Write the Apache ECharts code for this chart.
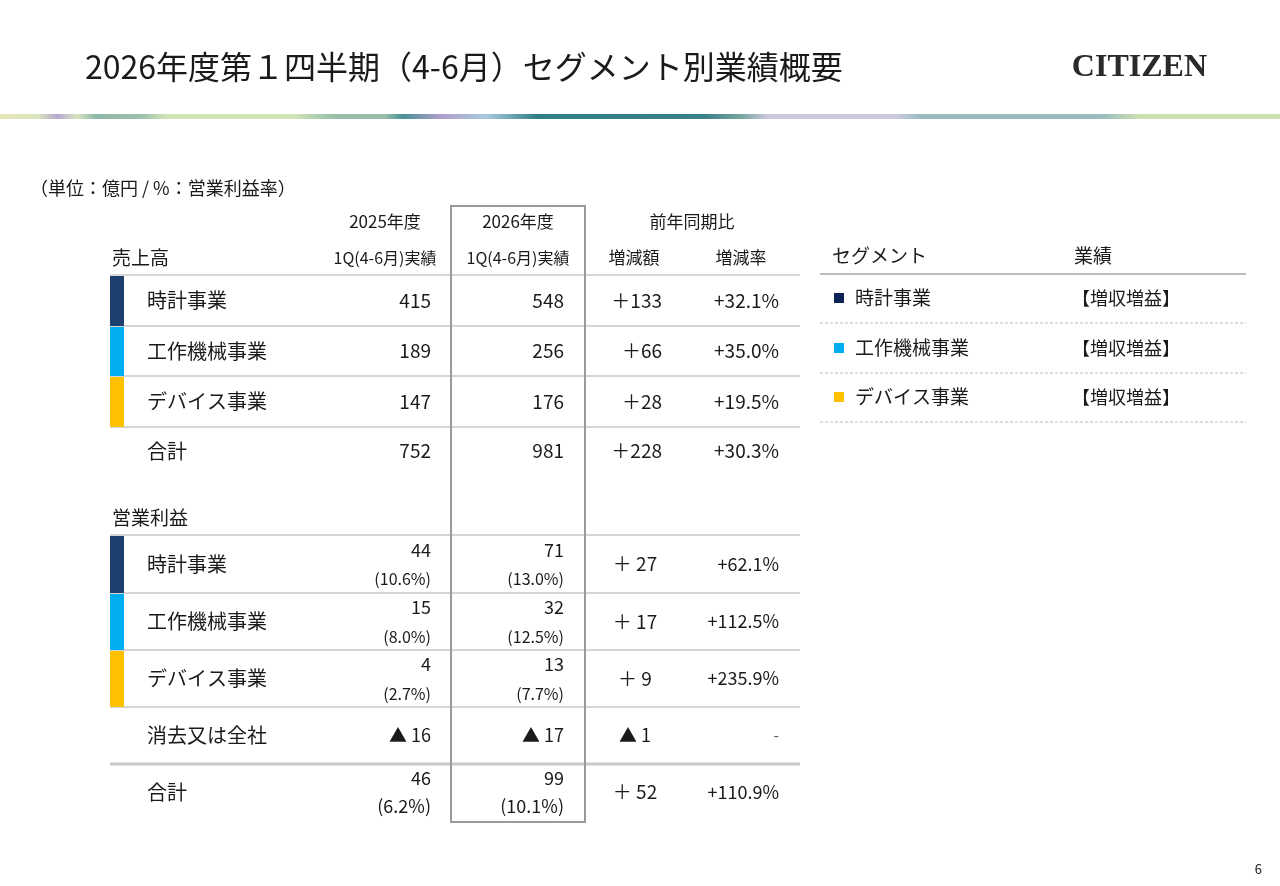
<!DOCTYPE html>
<html><head><meta charset="utf-8">
<script src="https://cdn.jsdelivr.net/npm/echarts@6/dist/echarts.min.js"></script>
<style>html,body{margin:0;padding:0;background:#fff}#c{width:1280px;height:886px}</style>
</head><body><div id="c"></div>
<script>
// ---------- data ----------
const titleText = '2026年度第１四半期（4-6月）セグメント別業績概要';
const brandText = 'CITIZEN';
const unitText = '（単位：億円 / %：営業利益率）';
const pageNo = '6';
const colHeadTop = ['2025年度', '2026年度', '前年同期比'];
const colHeadSub = ['1Q(4-6月)実績', '1Q(4-6月)実績', '増減額', '増減率'];
const salesLabel = '売上高';
const opLabel = '営業利益';
const totalLabel = '合計';
const segments = ['時計事業', '工作機械事業', 'デバイス事業'];
const sales2025 = ['415', '189', '147'];
const sales2026 = ['548', '256', '176'];
const salesDiff = ['＋133', '＋66', '＋28'];
const salesRate = ['+32.1%', '+35.0%', '+19.5%'];
const salesTotal = ['752', '981', '＋228', '+30.3%'];
const op2025 = ['44', '15', '4'];
const opMargin2025 = ['(10.6%)', '(8.0%)', '(2.7%)'];
const op2026 = ['71', '32', '13'];
const opMargin2026 = ['(13.0%)', '(12.5%)', '(7.7%)'];
const opDiff = ['＋ 27', '＋ 17', '＋ 9'];
const opRate = ['+62.1%', '+112.5%', '+235.9%'];
const elimLabel = '消去又は全社';
const elimValues = ['▲ 16', '▲ 17', '▲ 1', '-'];
const opTotal = ['46', '(6.2%)', '99', '(10.1%)', '＋ 52', '+110.9%'];
const panelHead = ['セグメント', '業績'];
const results = ['【増収増益】', '【増収増益】', '【増収増益】'];

// ---------- styling / layout ----------
const FF = '"Noto Sans CJK JP","Noto Sans",sans-serif';
const INK = '#1a1a1a';
const segColors = ['#1d3f6e', '#00aeef', '#ffc000'];
const markColors = ['#0b2257', '#00aeef', '#ffc000'];
const LINE = '#c8c8c8';

const els = [];
function T(text, x, y, size, align, extra) {
  els.push({type: 'text', z: 10, style: Object.assign({
    text: text, x: x, y: y, fill: INK, align: align || 'left', verticalAlign: 'middle',
    font: (size || 18) + 'px ' + FF
  }, extra || {})});
}
function L(x1, y1, x2, y2, color, w, dash) {
  els.push({type: 'line', z: 5, shape: {x1: x1, y1: y1, x2: x2, y2: y2},
    style: {stroke: color, lineWidth: w, lineDash: dash || null}});
}
function R(x, y, w, h, fill) {
  els.push({type: 'rect', z: 6, shape: {x: x, y: y, width: w, height: h}, style: {fill: fill}});
}

// header
T(titleText, 85, 67, 32, 'left');
T(brandText, 1207, 68, 32, 'right', {font: 'bold 32px "Liberation Serif","DejaVu Serif",serif', fill: '#2a2a2a'});
els.push({type: 'rect', z: 1, shape: {x: 0, y: 114, width: 1280, height: 5}, style: {
  fill: new echarts.graphic.LinearGradient(0, 0, 1, 0, [
    {offset: 0, color: '#e8e8b8'}, {offset: 0.03, color: '#d8e4bc'}, {offset: 0.045, color: '#b8a8d0'},
    {offset: 0.06, color: '#d8e4c0'}, {offset: 0.075, color: '#8fb8a8'}, {offset: 0.11, color: '#9cc0ac'},
    {offset: 0.13, color: '#d0e4b8'}, {offset: 0.23, color: '#d0e4b8'}, {offset: 0.26, color: '#98c0a8'},
    {offset: 0.3, color: '#98c0a8'}, {offset: 0.315, color: '#4a9098'}, {offset: 0.345, color: '#b0a0cc'},
    {offset: 0.38, color: '#a8c8e0'}, {offset: 0.42, color: '#2e8088'}, {offset: 0.55, color: '#3a8088'},
    {offset: 0.58, color: '#7aa8a0'}, {offset: 0.6, color: '#ccc8e0'}, {offset: 0.7, color: '#ccc8e0'},
    {offset: 0.72, color: '#98bcc0'}, {offset: 0.86, color: '#98bcc0'}, {offset: 0.89, color: '#cce0b0'},
    {offset: 1, color: '#cce0b0'}
  ])
}});

T(unitText, 30, 188, 18, 'left');

// table column anchors
const X_LEFT = 110, X_RIGHT = 800, X_LABEL = 147;
const X_25 = 431, X_26 = 564, X_DIFF_R = 662, X_DIFF_C = 635, X_RATE = 779;
const C_25 = 385, C_26 = 518, C_PY = 692, C_DIFF = 634, C_RATE = 741;

T(colHeadTop[0], C_25, 222, 17, 'center');
T(colHeadTop[1], C_26, 222, 17, 'center');
T(colHeadTop[2], C_PY, 222, 17, 'center');
T(colHeadSub[0], C_25, 258, 16, 'center');
T(colHeadSub[1], C_26, 258, 16, 'center');
T(colHeadSub[2], C_DIFF, 258, 17, 'center');
T(colHeadSub[3], C_RATE, 258, 17, 'center');
T(salesLabel, 112, 258, 19, 'left');

// sales block
const salesLines = [275, 326, 376, 427];
L(X_LEFT, salesLines[0], X_RIGHT, salesLines[0], LINE, 1.5);
segments.forEach(function (seg, i) {
  const top = salesLines[i], bot = salesLines[i + 1];
  const cy = (top + bot) / 2;
  R(X_LEFT, top + 1, 14, bot - top - 1, segColors[i]);
  L(X_LEFT, bot, X_RIGHT, bot, LINE, 1.5);
  T(seg, X_LABEL, cy, 20, 'left');
  T(sales2025[i], X_25, cy, 19, 'right');
  T(sales2026[i], X_26, cy, 19, 'right');
  T(salesDiff[i], X_DIFF_R, cy, 19, 'right');
  T(salesRate[i], X_RATE, cy, 19, 'right');
});
T(totalLabel, X_LABEL, 451, 20, 'left');
T(salesTotal[0], X_25, 451, 19, 'right');
T(salesTotal[1], X_26, 451, 19, 'right');
T(salesTotal[2], X_DIFF_R, 451, 19, 'right');
T(salesTotal[3], X_RATE, 451, 19, 'right');

// operating profit block
T(opLabel, 112, 518, 19, 'left');
const opLines = [535, 593, 650, 707];
L(X_LEFT, opLines[0], X_RIGHT, opLines[0], LINE, 1.5);
segments.forEach(function (seg, i) {
  const top = opLines[i], bot = opLines[i + 1];
  const cy = (top + bot) / 2;
  R(X_LEFT, top + 1, 14, bot - top - 1, segColors[i]);
  L(X_LEFT, bot, X_RIGHT, bot, LINE, 1.5);
  T(seg, X_LABEL, cy, 20, 'left');
  T(op2025[i], X_25, cy - 14, 18, 'right');
  T(opMargin2025[i], X_25, cy + 15, 16, 'right');
  T(op2026[i], X_26, cy - 14, 18, 'right');
  T(opMargin2026[i], X_26, cy + 15, 16, 'right');
  T(opDiff[i], X_DIFF_C, cy, 19, 'center');
  T(opRate[i], X_RATE, cy, 18, 'right');
});
T(elimLabel, X_LABEL, 735, 20, 'left');
T(elimValues[0], X_25, 735, 18, 'right');
T(elimValues[1], X_26, 735, 18, 'right');
T(elimValues[2], X_DIFF_C, 735, 18, 'center');
T(elimValues[3], X_RATE, 735, 16, 'right', {fill: '#666'});
L(X_LEFT, 764, X_RIGHT, 764, LINE, 3);
T(totalLabel, X_LABEL, 792, 20, 'left');
T(opTotal[0], X_25, 778, 18, 'right');
T(opTotal[1], X_25, 806, 18, 'right');
T(opTotal[2], X_26, 778, 18, 'right');
T(opTotal[3], X_26, 806, 18, 'right');
T(opTotal[4], X_DIFF_C, 792, 19, 'center');
T(opTotal[5], X_RATE, 792, 18, 'right');

// 2026 highlight frame
els.push({type: 'rect', z: 8, shape: {x: 451, y: 206, width: 134, height: 616},
  style: {fill: 'none', stroke: '#9a9a9a', lineWidth: 2}});

// right panel
T(panelHead[0], 832, 256, 19, 'left');
T(panelHead[1], 1074, 256, 19, 'left');
L(820, 274, 1246, 274, '#bdbdbd', 2);
const panelRows = [298, 348, 397];
segments.forEach(function (seg, i) {
  const cy = panelRows[i];
  R(834, cy - 5, 10, 10, markColors[i]);
  T(seg, 855, cy, 19, 'left');
  T(results[i], 1072, cy, 18, 'left');
  L(820, cy + 25, 1246, cy + 25, '#bdbdbd', 1, [3, 2]);
});

T(pageNo, 1262, 869, 13, 'right');

const chart = echarts.init(document.getElementById('c'), null, {renderer: 'canvas'});
chart.setOption({backgroundColor: '#ffffff', animation: false, graphic: {elements: els}});
</script></body></html>
